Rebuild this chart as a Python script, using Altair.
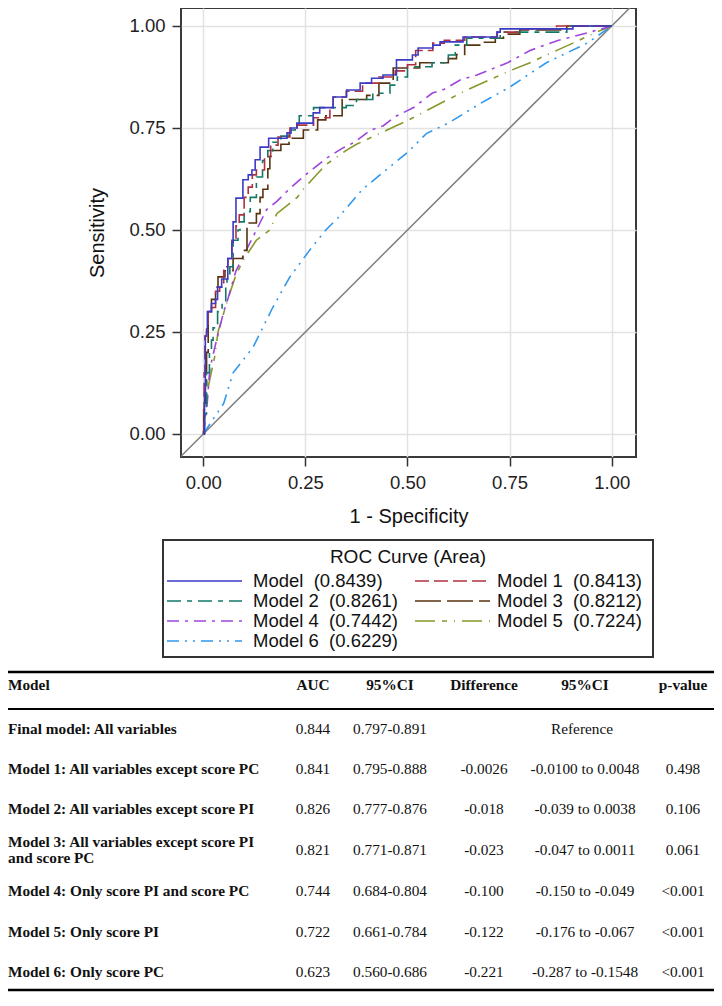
import altair as alt
import pandas as pd

# ---------------- data ----------------
model_names = ["Model", "Model 1", "Model 2", "Model 3", "Model 4", "Model 5", "Model 6"]
model_auc = ["0.8439", "0.8413", "0.8261", "0.8212", "0.7442", "0.7224", "0.6229"]

# empirical (step) curves: x = 1 - specificity, y = sensitivity
fpr0 = [0, 0.003, 0.005, 0.008, 0.010, 0.020, 0.030, 0.035, 0.045, 0.060, 0.070, 0.073, 0.080, 0.097, 0.110,
        0.119, 0.127, 0.139, 0.160, 0.205, 0.215, 0.229, 0.269, 0.285, 0.318, 0.351, 0.384, 0.412, 0.440, 0.473,
        0.512, 0.526, 0.562, 0.580, 0.636, 0.719, 0.727, 0.905, 1.0]
tpr0 = [0, 0.10, 0.24, 0.25, 0.30, 0.32, 0.33, 0.36, 0.38, 0.43, 0.47, 0.52, 0.578, 0.623, 0.635,
        0.647, 0.672, 0.703, 0.725, 0.738, 0.750, 0.762, 0.787, 0.800, 0.826, 0.843, 0.860, 0.872, 0.880, 0.917,
        0.929, 0.946, 0.953, 0.961, 0.973, 0.985, 0.993, 1.0, 1.0]

fpr1 = [0, 0.002, 0.004, 0.008, 0.012, 0.020, 0.030, 0.040, 0.050, 0.060, 0.070, 0.080, 0.088, 0.100, 0.110,
        0.120, 0.130, 0.150, 0.165, 0.183, 0.212, 0.230, 0.270, 0.310, 0.318, 0.350, 0.390, 0.430, 0.470, 0.500,
        0.520, 0.562, 0.590, 0.640, 0.720, 0.780, 0.865, 1.0]
tpr1 = [0, 0.15, 0.24, 0.26, 0.30, 0.31, 0.35, 0.36, 0.41, 0.43, 0.48, 0.51, 0.537, 0.58, 0.605,
        0.635, 0.647, 0.68, 0.708, 0.728, 0.75, 0.757, 0.775, 0.80, 0.826, 0.84, 0.86, 0.875, 0.89, 0.905,
        0.94, 0.958, 0.965, 0.973, 0.985, 0.993, 1.0, 1.0]

fpr2 = [0, 0.003, 0.008, 0.015, 0.020, 0.024, 0.035, 0.046, 0.055, 0.058, 0.065, 0.073, 0.085, 0.090, 0.100,
        0.115, 0.130, 0.145, 0.158, 0.170, 0.190, 0.210, 0.225, 0.235, 0.270, 0.350, 0.375, 0.415, 0.457, 0.475,
        0.500, 0.560, 0.600, 0.617, 0.645, 0.727, 0.890, 1.0]
tpr2 = [0, 0.05, 0.15, 0.21, 0.23, 0.26, 0.30, 0.32, 0.36, 0.38, 0.41, 0.475, 0.50, 0.52, 0.545,
        0.58, 0.63, 0.67, 0.695, 0.715, 0.73, 0.745, 0.76, 0.78, 0.80, 0.805, 0.82, 0.835, 0.855, 0.875,
        0.90, 0.91, 0.929, 0.953, 0.97, 0.985, 1.0, 1.0]

fpr3 = [0, 0.001, 0.005, 0.008, 0.012, 0.020, 0.030, 0.036, 0.053, 0.073, 0.097, 0.107, 0.130, 0.139, 0.146,
        0.158, 0.163, 0.170, 0.190, 0.210, 0.245, 0.280, 0.300, 0.340, 0.400, 0.430, 0.465, 0.530, 0.600, 0.620,
        0.640, 0.685, 0.715, 0.735, 0.775, 0.890, 1.0]
tpr3 = [0, 0.06, 0.12, 0.20, 0.30, 0.33, 0.36, 0.385, 0.40, 0.43, 0.45, 0.517, 0.54, 0.58, 0.60,
        0.65, 0.68, 0.695, 0.71, 0.725, 0.745, 0.77, 0.78, 0.82, 0.83, 0.86, 0.897, 0.91, 0.92, 0.93,
        0.953, 0.96, 0.97, 0.98, 0.99, 1.0, 1.0]

# score-only models (few distinct values -> nearly smooth)
fpr4 = [0, 0.010, 0.016, 0.030, 0.050, 0.060, 0.080, 0.100, 0.120, 0.155, 0.180, 0.210, 0.250, 0.300, 0.340,
        0.370, 0.410, 0.440, 0.470, 0.515, 0.560, 0.590, 0.630, 0.670, 0.720, 0.745, 0.800, 0.870, 0.940, 1.0]
tpr4 = [0, 0.08, 0.16, 0.22, 0.30, 0.33, 0.40, 0.44, 0.48, 0.55, 0.57, 0.60, 0.635, 0.675, 0.70,
        0.715, 0.745, 0.755, 0.778, 0.80, 0.835, 0.845, 0.868, 0.88, 0.90, 0.91, 0.94, 0.965, 0.983, 1.0]

fpr5 = [0, 0.012, 0.028, 0.036, 0.060, 0.080, 0.100, 0.130, 0.163, 0.180, 0.230, 0.245, 0.300, 0.350, 0.375,
        0.450, 0.500, 0.580, 0.600, 0.645, 0.750, 0.800, 0.830, 0.905, 0.963, 1.0]
tpr5 = [0, 0.115, 0.19, 0.25, 0.33, 0.39, 0.43, 0.475, 0.50, 0.54, 0.58, 0.60, 0.66, 0.695, 0.71,
        0.745, 0.768, 0.81, 0.82, 0.843, 0.89, 0.91, 0.924, 0.958, 0.985, 1.0]

fpr6 = [0, 0.050, 0.073, 0.122, 0.170, 0.212, 0.260, 0.300, 0.330, 0.390, 0.457, 0.500, 0.547, 0.600, 0.678,
        0.750, 0.840, 0.940, 1.0]
tpr6 = [0, 0.075, 0.15, 0.213, 0.31, 0.385, 0.45, 0.50, 0.53, 0.60, 0.655, 0.69, 0.737, 0.762, 0.81,
        0.85, 0.91, 0.958, 1.0]

diag_vals = [-0.1, 1.1]
tick_vals = [0, 0.25, 0.5, 0.75, 1.0]

# table
tab_header = ["Model", "AUC", "95%CI", "Difference", "95%CI", "p-value"]
tab_model = ["Final model: All variables",
             "Model 1: All variables except score PC",
             "Model 2: All variables except score PI",
             "Model 3: All variables except score PI\nand score PC",
             "Model 4: Only score PI and score PC",
             "Model 5: Only score PI",
             "Model 6: Only score PC"]
tab_auc = ["0.844", "0.841", "0.826", "0.821", "0.744", "0.722", "0.623"]
tab_ci = ["0.797-0.891", "0.795-0.888", "0.777-0.876", "0.771-0.871", "0.684-0.804", "0.661-0.784", "0.560-0.686"]
tab_diff = ["", "-0.0026", "-0.018", "-0.023", "-0.100", "-0.122", "-0.221"]
tab_diff_ci = ["", "-0.0100 to 0.0048", "-0.039 to 0.0038", "-0.047 to 0.0011", "-0.150 to -0.049",
               "-0.176 to -0.067", "-0.287 to -0.1548"]
tab_p = ["", "0.498", "0.106", "0.061", "<0.001", "<0.001", "<0.001"]
tab_reference = "Reference"

# ---------------- styles ----------------
colors = ["#3b3bc6", "#b0303f", "#127868", "#583310", "#9d45dc", "#87972a", "#3098ec"]
dashes = [[1, 0], [14, 5], [14, 6, 5, 6], [26, 6], [12, 6, 3, 6], [20, 7, 5, 7, 1, 7], [12, 6, 2, 6, 2, 6]]
step_flags = [True, True, True, True, False, False, False]

curves = [(fpr0, tpr0), (fpr1, tpr1), (fpr2, tpr2), (fpr3, tpr3), (fpr4, tpr4), (fpr5, tpr5), (fpr6, tpr6)]

W, H = 455, 449
XDOM = [-0.0546, 1.0595]
YDOM = [-0.0564, 1.0441]
SANS = "Liberation Sans"
SERIF = "Liberation Serif"

xenc = alt.X("fpr:Q", scale=alt.Scale(domain=XDOM, nice=False, zero=False),
             axis=alt.Axis(values=tick_vals, format=".2f", title="1 - Specificity",
                           labelPadding=7, titlePadding=15))
yenc = alt.Y("tpr:Q", scale=alt.Scale(domain=YDOM, nice=False, zero=False),
             axis=alt.Axis(values=tick_vals, format=".2f", title="Sensitivity",
                           labelPadding=7, titlePadding=21))

layers = []
diag_df = pd.DataFrame({"fpr": diag_vals, "tpr": diag_vals})
layers.append(alt.Chart(diag_df).mark_line(color="#808080", strokeWidth=1.5, clip=True).encode(x=xenc, y=yenc))

for i in reversed(range(len(curves))):
    fx, ty = curves[i]
    df = pd.DataFrame({"fpr": fx, "tpr": ty, "idx": list(range(len(fx)))})
    mk = alt.Chart(df).mark_line(
        color=colors[i], strokeWidth=1.6, strokeDash=dashes[i],
        interpolate="step-after" if step_flags[i] else "linear")
    layers.append(mk.encode(x=alt.X("fpr:Q"), y=alt.Y("tpr:Q"), order="idx:Q"))

dummy = pd.DataFrame({"k": [0]})


def txt(s, x, y, align="center", bold=False, size=15.3, font=SERIF, color="#111111"):
    return alt.Chart(dummy).mark_text(
        text=s, align=align, baseline="middle", font=font, fontSize=size,
        fontWeight="bold" if bold else "normal", color=color).encode(x=alt.value(x), y=alt.value(y))


def hline(x1, x2, y, color="black", width=1.0, dash=None):
    kw = dict(color=color, strokeWidth=width)
    if dash is not None:
        kw["strokeDash"] = dash
    return alt.Chart(dummy).mark_rule(**kw).encode(x=alt.value(x1), x2=alt.value(x2), y=alt.value(y))


# ---------------- legend box (chart coords: page minus origin 181, 8) ----------------
layers.append(alt.Chart(dummy).mark_rect(fillOpacity=0, stroke="#333333", strokeWidth=2).encode(
    x=alt.value(-18), x2=alt.value(472), y=alt.value(532), y2=alt.value(649)))
layers.append(txt("ROC Curve (Area)", 227, 549, size=19, font=SANS))
leg_sample_x = [-14, 234]
leg_label_x = [72, 316]
leg_row_y = [573, 593, 613, 633]
for i, (nm, auc) in enumerate(zip(model_names, model_auc)):
    r, c = divmod(i, 2)
    layers.append(hline(leg_sample_x[c], leg_sample_x[c] + 75, leg_row_y[r], color=colors[i], width=1.6,
                        dash=dashes[i]))
    layers.append(txt(f"{nm}\u00a0 ({auc})", leg_label_x[c], leg_row_y[r], align="left", size=18.5, font=SANS))

# ---------------- table ----------------
TL, TR = -173, 533
col_x = [-173, 132, 209, 303, 404, 502]
row_y = [721, 760.5, 801, 842, 883, 923.5, 964]
head_y = 677
layers.append(hline(TL, TR, 664, width=2.5))
layers.append(hline(TL, TR, 701, width=2))
layers.append(hline(TL, TR, 982, width=2.5))
for j, h in enumerate(tab_header):
    layers.append(txt(h, col_x[j], head_y, align="left" if j == 0 else "center", bold=True))
for r in range(len(tab_model)):
    lines = tab_model[r].split("\n")
    n = len(lines)
    for k, ln in enumerate(lines):
        layers.append(txt(ln, col_x[0], row_y[r] + (k - (n - 1) / 2) * 16.5, align="left", bold=True))
    layers.append(txt(tab_auc[r], col_x[1], row_y[r]))
    layers.append(txt(tab_ci[r], col_x[2], row_y[r]))
    if tab_diff[r]:
        layers.append(txt(tab_diff[r], col_x[3], row_y[r]))
        layers.append(txt(tab_diff_ci[r], col_x[4], row_y[r]))
        layers.append(txt(tab_p[r], col_x[5], row_y[r]))
    else:
        layers.append(txt(tab_reference, col_x[4] - 3, row_y[r]))

chart = alt.layer(*layers).properties(
    width=W, height=H,
    autosize=alt.AutoSizeParams(type="none"),
    padding={"left": 173, "top": 0, "right": 78, "bottom": 537},
).configure_view(
    stroke="#3a3a3a", strokeWidth=2
).configure_axis(
    domain=False, grid=True, gridColor="#e2e2e2", gridWidth=1.5,
    tickSize=9, tickWidth=1.5, tickColor="#333333",
    labelFont=SANS, labelFontSize=18.5, labelColor="#222222",
    titleFont=SANS, titleFontSize=20, titleFontWeight="normal", titleColor="#111111",
)

chart.save("out.html", embed_options={"renderer": "svg", "actions": False})
